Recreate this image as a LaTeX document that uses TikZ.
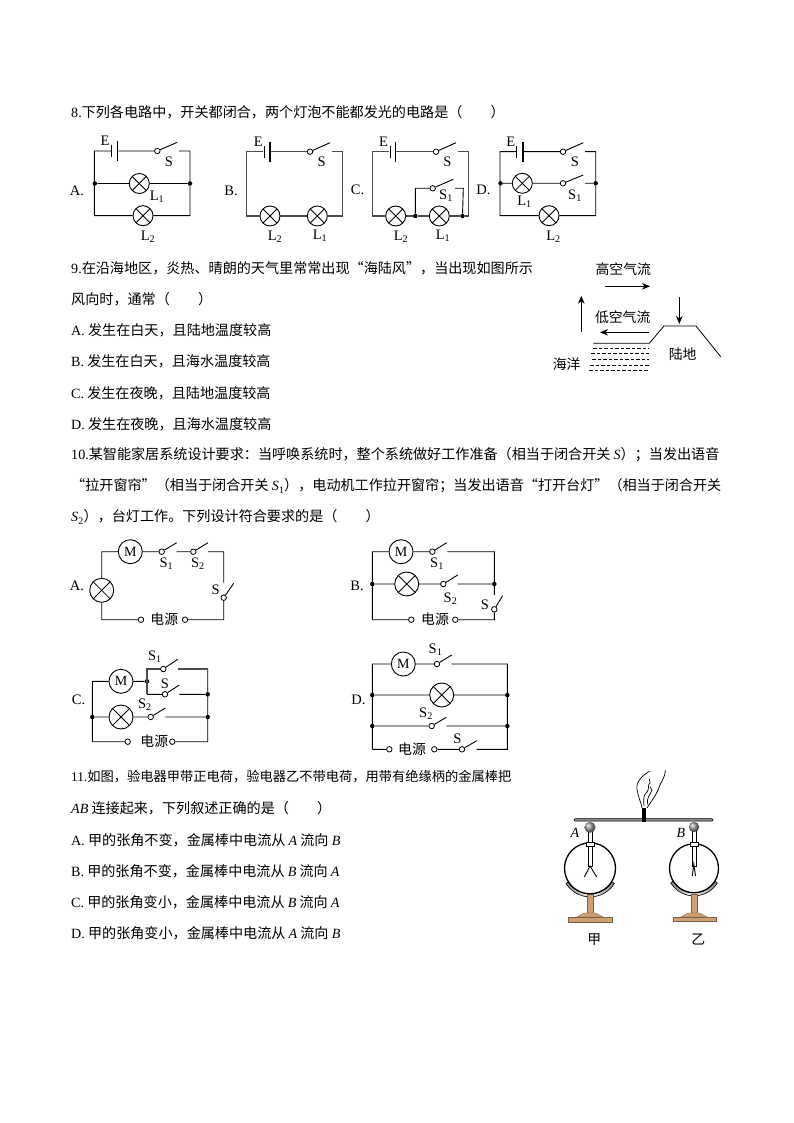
\documentclass[tikz,border=0pt]{standalone}
\usepackage{fontspec}
\setmainfont{Liberation Serif}
\newfontfamily\cjk{Noto Sans CJK SC}
\usetikzlibrary{positioning,arrows.meta}
\definecolor{standtan}{RGB}{205,160,115}
\newcommand\zc{^^^^ff0c}
\newcommand\zl{^^^^ff08}
\newcommand\zr{^^^^ff09}
\newcommand\zk{^^^^ff1a}
\newcommand\zs{^^^^ff1b}

\begin{document}
\begin{tikzpicture}[%
    x=1pt,
    y=-1pt,
    >={Stealth[length=8pt,width=6.5pt]},
    every node/.style={inner sep=0pt},
    line/.style={anchor=west,font=\fontsize{14.1}{16}\selectfont\cjk},
    tag/.style={font=\fontsize{14.5}{16}\selectfont},
    zh/.style={font=\fontsize{13.85}{16}\selectfont\cjk},
    wire/.style={line width=0.9pt},
    fat/.style={line width=1.3pt,black!70},
    lamp/.style={circle,draw,fill=white,line width=0.9pt,minimum size=20pt,
        path picture={\draw[line width=0.8pt] (path picture bounding box.north west) -- (path picture bounding box.south east)
            (path picture bounding box.north east) -- (path picture bounding box.south west);}},
    biglamp/.style={lamp,minimum size=24pt},
    motor/.style={circle,draw,fill=white,line width=0.9pt,minimum size=24pt,font=\fontsize{14}{14}\selectfont},
    term/.style={circle,draw,fill=white,line width=0.8pt,minimum size=5.5pt},
    dot/.style={circle,fill=black,minimum size=4.5pt},
    short/.style={fill=black,minimum width=1pt,minimum height=12pt},
    long/.style={fill=black,minimum width=1.6pt,minimum height=20pt}]

    \useasboundingbox[fill=white] (0,0) rectangle (794,1123);

    % question text
    \node[line] (q8) at (71,112) {{\rmfamily 8.}下列各电路中\zc{}开关都闭合\zc{}两个灯泡不能都发光的电路是\zl{}\hspace{2em}\zr{}};
    \node[line] (q9a) at (71,268) {{\rmfamily 9.}在沿海地区\zc{}炎热、晴朗的天气里常常出现“海陆风”\zc{}当出现如图所示};
    \node[line] (q9b) at (71,299) {风向时\zc{}通常\zl{}\hspace{2em}\zr{}};
    \node[line] (q9A) at (71,330) {{\rmfamily A.} 发生在白天\zc{}且陆地温度较高};
    \node[line] (q9B) at (71,361) {{\rmfamily B.} 发生在白天\zc{}且海水温度较高};
    \node[line] (q9C) at (71,393) {{\rmfamily C.} 发生在夜晚\zc{}且陆地温度较高};
    \node[line] (q9D) at (71,424) {{\rmfamily D.} 发生在夜晚\zc{}且海水温度较高};
    \node[line] (q10a) at (71,455) {{\rmfamily 10.}某智能家居系统设计要求\zk{}当呼唤系统时\zc{}整个系统做好工作准备\zl{}相当于闭合开关 {\rmfamily\itshape S}\zr{}\zs{}当发出语音};
    \node[line] (q10b) at (71,486) {“拉开窗帘”\zl{}相当于闭合开关 {\rmfamily\itshape S}{\rmfamily\textsubscript{1}}\zr{}\zc{}电动机工作拉开窗帘\zs{}当发出语音“打开台灯”\zl{}相当于闭合开关};
    \node[line] (q10c) at (71,517) {{\rmfamily\itshape S}{\rmfamily\textsubscript{2}}\zr{}\zc{}台灯工作。下列设计符合要求的是\zl{}\hspace{2em}\zr{}};
    \node[line,font=\fontsize{13.25}{16}\selectfont\cjk] (q11a) at (71,777) {{\rmfamily 11.}如图\zc{}验电器甲带正电荷\zc{}验电器乙不带电荷\zc{}用带有绝缘柄的金属棒把};
    \node[line] (q11b) at (71,808) {{\rmfamily\itshape AB} 连接起来\zc{}下列叙述正确的是\zl{}\hspace{2em}\zr{}};
    \node[line] (q11A) at (71,840) {{\rmfamily A.} 甲的张角不变\zc{}金属棒中电流从 {\rmfamily\itshape A} 流向 {\rmfamily\itshape B}};
    \node[line] (q11B) at (71,871) {{\rmfamily B.} 甲的张角不变\zc{}金属棒中电流从 {\rmfamily\itshape B} 流向 {\rmfamily\itshape A}};
    \node[line] (q11C) at (71,902) {{\rmfamily C.} 甲的张角变小\zc{}金属棒中电流从 {\rmfamily\itshape B} 流向 {\rmfamily\itshape A}};
    \node[line] (q11D) at (71,933) {{\rmfamily D.} 甲的张角变小\zc{}金属棒中电流从 {\rmfamily\itshape A} 流向 {\rmfamily\itshape B}};

    % 8 A
    \coordinate (tl_8a) at (94.3,151);
    \coordinate (tr_8a) at (190,151);
    \coordinate (bl_8a) at (94.3,215.7);
    \coordinate (br_8a) at (190,215.7);
    \coordinate (S_end_8a) at (177.3,142.3);
    \coordinate (S_back_8a) at (179,151);
    \node[short] (e1_8a) at (111.7,151) {};
    \node[long] (e2_8a) at (117.3,151) {};
    \node[term] (S_8a) at (157.3,151) {};
    \node[dot] (jl_8a) at (94.8,183.5) {};
    \node[dot] (jr_8a) at (190,183.5) {};
    \node[lamp] (L1_8a) at (139.3,183.5) {};
    \node[lamp] (L2_8a) at (143,215.7) {};
    \node[tag] (A_8a) at (77,191) {A.};
    \node[tag] (E_8a) at (105,140.5) {E};
    \node[tag] (Sl_8a) at (169,162) {S};
    \node[tag] (L1l_8a) at (157,197) {L\textsubscript{1}};
    \node[tag] (L2l_8a) at (148,237) {L\textsubscript{2}};
    \draw[wire] (e1_8a) -- (tl_8a) -- (bl_8a) -- (L2_8a) -- (br_8a) -- (tr_8a) -- (S_back_8a)
        (e2_8a) -- (S_8a) -- (S_end_8a)
        (jl_8a) -- (L1_8a) -- (jr_8a);

    % 8 B
    \coordinate (tl_8b) at (246.7,151.7);
    \coordinate (tr_8b) at (342.7,151.7);
    \coordinate (bl_8b) at (246.7,216);
    \coordinate (br_8b) at (342.7,216);
    \coordinate (S_end_8b) at (330,142.7);
    \coordinate (S_back_8b) at (331.7,151.7);
    \node[short] (e1_8b) at (264,151.7) {};
    \node[long] (e2_8b) at (269.7,151.7) {};
    \node[term] (S_8b) at (310,151.7) {};
    \node[lamp] (L2_8b) at (270,216) {};
    \node[lamp] (L1_8b) at (317.3,216) {};
    \node[tag] (B_8b) at (231,191) {B.};
    \node[tag] (E_8b) at (258.3,141.5) {E};
    \node[tag] (Sl_8b) at (321.7,162) {S};
    \node[tag] (L2l_8b) at (275,237) {L\textsubscript{2}};
    \node[tag] (L1l_8b) at (320,236) {L\textsubscript{1}};
    \draw[fat] (e1_8b) -- (tl_8b) -- (bl_8b) -- (L2_8b) -- (L1_8b) -- (br_8b) -- (tr_8b) -- (S_back_8b)
        (e2_8b) -- (S_8b);
    \draw[wire] (S_8b) -- (S_end_8b);

    % 8 C
    \coordinate (tl_8c) at (372.7,151.7);
    \coordinate (tr_8c) at (468.3,151.7);
    \coordinate (bl_8c) at (372.7,216);
    \coordinate (br_8c) at (468.3,216);
    \coordinate (S_end_8c) at (456,142.7);
    \coordinate (S_back_8c) at (458.3,151.7);
    \coordinate (up_8c) at (415.3,188.3);
    \coordinate (down_8c) at (463.3,188.3);
    \coordinate (S1_end_8c) at (453.3,179.3);
    \coordinate (S1_back_8c) at (455,188.3);
    \node[short] (e1_8c) at (390,151.7) {};
    \node[long] (e2_8c) at (395.3,151.7) {};
    \node[term] (S_8c) at (436,151.7) {};
    \node[term] (S1_8c) at (432.7,188.3) {};
    \node[lamp] (L2_8c) at (395.7,216) {};
    \node[lamp] (L1_8c) at (439.3,216) {};
    \node[dot] (j1_8c) at (415.3,216) {};
    \node[dot] (j2_8c) at (462.5,216) {};
    \node[tag] (C_8c) at (357.5,190) {C.};
    \node[tag] (E_8c) at (383.5,141.5) {E};
    \node[tag] (Sl_8c) at (447.3,162) {S};
    \node[tag] (S1l_8c) at (446,196) {S\textsubscript{1}};
    \node[tag] (L2l_8c) at (401,237) {L\textsubscript{2}};
    \node[tag] (L1l_8c) at (443,236) {L\textsubscript{1}};
    \draw[fat] (e1_8c) -- (tl_8c) -- (bl_8c) -- (L2_8c) -- (j1_8c) -- (L1_8c) -- (j2_8c) -- (br_8c) -- (tr_8c) -- (S_back_8c)
        (e2_8c) -- (S_8c);
    \draw[wire] (S_8c) -- (S_end_8c)
        (j1_8c) -- (up_8c) -- (S1_8c) -- (S1_end_8c)
        (S1_back_8c) -- (down_8c) -- (j2_8c);

    % 8 D
    \coordinate (tl_8d) at (500,151.7);
    \coordinate (tr_8d) at (595.7,151.7);
    \coordinate (bl_8d) at (500,215.7);
    \coordinate (br_8d) at (595.7,215.7);
    \coordinate (S_end_8d) at (583.3,142.7);
    \coordinate (S_back_8d) at (585,151.7);
    \coordinate (S1_end_8d) at (583.3,175);
    \coordinate (S1_back_8d) at (585,183.3);
    \node[short] (e1_8d) at (516.7,151.7) {};
    \node[long] (e2_8d) at (522.7,151.7) {};
    \node[term] (S_8d) at (563,151.7) {};
    \node[term] (S1_8d) at (563,183.3) {};
    \node[dot] (jl_8d) at (500.5,183.3) {};
    \node[dot] (jr_8d) at (595.7,183.3) {};
    \node[lamp] (L1_8d) at (522.3,183.3) {};
    \node[lamp] (L2_8d) at (549,215.7) {};
    \node[tag] (D_8d) at (483.5,190) {D.};
    \node[tag] (E_8d) at (510.7,141.5) {E};
    \node[tag] (Sl_8d) at (575,162) {S};
    \node[tag] (S1l_8d) at (575,196) {S\textsubscript{1}};
    \node[tag] (L1l_8d) at (524.5,202) {L\textsubscript{1}};
    \node[tag] (L2l_8d) at (553.5,237) {L\textsubscript{2}};
    \draw[wire] (e1_8d) -- (tl_8d) -- (bl_8d) -- (L2_8d) -- (br_8d) -- (tr_8d) -- (S_back_8d)
        (e2_8d) -- (S_8d) -- (S_end_8d)
        (jl_8d) -- (L1_8d) -- (S1_8d) -- (S1_end_8d)
        (S1_back_8d) -- (jr_8d);

    % 9 sea and land
    \node[zh] (high) at (623.3,269) {高空气流};
    \node[zh] (low) at (622.7,317) {低空气流};
    \node[zh] (sea) at (566.7,364.5) {海洋};
    \node[zh] (land) at (682.7,354) {陆地};
    \draw[->,line width=0.8pt] (605,286.3) -- (650,286.3);
    \draw[->,line width=0.8pt] (581.3,331.7) -- (581.3,295.7);
    \draw[->,line width=0.8pt] (679.3,297.3) -- (679.3,324);
    \draw[->,line width=0.8pt] (649,332.3) -- (600,332.3);
    \draw[line width=0.8pt] (593.3,343.3) -- (649.3,343.3) -- (664,326) -- (696,326) -- (720.7,356.7);
    \foreach \y/\x in {348.3/593,353.7/591,359/592,365/590,370/589}
        \draw[line width=0.7pt,dash pattern=on 3.5pt off 2pt] (\x,\y) -- (649.3,\y);

    % 10 A
    \coordinate (tl_10a) at (101.7,551.7);
    \coordinate (tr_10a) at (223.7,551.7);
    \coordinate (bl_10a) at (101.7,619.7);
    \coordinate (br_10a) at (223.7,619.7);
    \coordinate (S1_end_10a) at (176.7,542.7);
    \coordinate (S1_back_10a) at (176.7,551.7);
    \coordinate (S2_end_10a) at (208,542.7);
    \coordinate (S2_back_10a) at (208,551.7);
    \coordinate (S_end_10a) at (233.7,583.3);
    \coordinate (S_back_10a) at (223.7,582.7);
    \node[motor] (M_10a) at (130.3,551.7) {M};
    \node[biglamp] (L_10a) at (101.7,590.3) {};
    \node[term] (S1_10a) at (161.7,551.7) {};
    \node[term] (S2_10a) at (193.3,551.7) {};
    \node[term] (S_10a) at (223.7,597.7) {};
    \node[term] (p1_10a) at (141,619.7) {};
    \node[term] (p2_10a) at (185,619.7) {};
    \node[zh] (src_10a) at (164.3,619.7) {电源};
    \node[tag] (A_10a) at (77,586) {A.};
    \node[tag] (S1l_10a) at (166.5,563.5) {S\textsubscript{1}};
    \node[tag] (S2l_10a) at (198,563.5) {S\textsubscript{2}};
    \node[tag] (Sl_10a) at (215.7,590) {S};
    \draw[wire] (L_10a) -- (tl_10a) -- (M_10a) -- (S1_10a) -- (S1_end_10a)
        (S1_back_10a) -- (S2_10a) -- (S2_end_10a)
        (S2_back_10a) -- (tr_10a) -- (S_back_10a)
        (S_end_10a) -- (S_10a) -- (br_10a) -- (p2_10a)
        (p1_10a) -- (bl_10a) -- (L_10a);

    % 10 B
    \coordinate (tl_10b) at (372.3,551.7);
    \coordinate (tr_10b) at (494.3,551.7);
    \coordinate (bl_10b) at (372.3,619.7);
    \coordinate (br_10b) at (494.3,619.7);
    \coordinate (S1_end_10b) at (446.7,542.7);
    \coordinate (S1_back_10b) at (447.3,551.7);
    \coordinate (S2_end_10b) at (457.7,575);
    \coordinate (S2_back_10b) at (457.7,584);
    \coordinate (S_end_10b) at (502.7,595.7);
    \coordinate (S_back_10b) at (494.3,595);
    \node[motor] (M_10b) at (401,551.7) {M};
    \node[biglamp] (L_10b) at (406.7,584) {};
    \node[dot] (jl_10b) at (372.3,584) {};
    \node[dot] (jr_10b) at (494.3,584) {};
    \node[term] (S1_10b) at (432.3,551.7) {};
    \node[term] (S2_10b) at (443.3,584) {};
    \node[term] (S_10b) at (494.3,609.3) {};
    \node[term] (p1_10b) at (411.3,619.7) {};
    \node[term] (p2_10b) at (455.3,619.7) {};
    \node[zh] (src_10b) at (435,619.7) {电源};
    \node[tag] (B_10b) at (357,586) {B.};
    \node[tag] (S1l_10b) at (437,563.5) {S\textsubscript{1}};
    \node[tag] (S2l_10b) at (450.5,598.5) {S\textsubscript{2}};
    \node[tag] (Sl_10b) at (485,605) {S};
    \draw[wire] (bl_10b) -- (tl_10b) -- (M_10b) -- (S1_10b) -- (S1_end_10b)
        (S1_back_10b) -- (tr_10b) -- (S_back_10b)
        (jl_10b) -- (L_10b) -- (S2_10b) -- (S2_end_10b)
        (S2_back_10b) -- (jr_10b)
        (S_end_10b) -- (S_10b) -- (br_10b) -- (p2_10b)
        (p1_10b) -- (bl_10b);

    % 10 C
    \coordinate (tl_10c) at (92.3,681.3);
    \coordinate (bl_10c) at (92.3,741.7);
    \coordinate (br_10c) at (207.7,741.7);
    \coordinate (tr_10c) at (207.7,669);
    \coordinate (up_10c) at (147,669);
    \coordinate (down_10c) at (147,694.3);
    \coordinate (S1_end_10c) at (177.7,659.3);
    \coordinate (S1_back_10c) at (178.3,669);
    \coordinate (S_end_10c) at (179.3,685);
    \coordinate (S_back_10c) at (179.3,694.3);
    \coordinate (S2_end_10c) at (165.3,708);
    \coordinate (S2_back_10c) at (165.3,717);
    \node[motor] (M_10c) at (121,681.3) {M};
    \node[biglamp] (L_10c) at (121,717) {};
    \node[dot] (jm_10c) at (147,681.3) {};
    \node[dot] (jl_10c) at (92.3,717) {};
    \node[dot] (j1_10c) at (207.7,694.3) {};
    \node[dot] (j2_10c) at (207.7,717) {};
    \node[term] (S1_10c) at (163.3,669) {};
    \node[term] (S_10c) at (165,694.3) {};
    \node[term] (S2_10c) at (150.7,717) {};
    \node[term] (p1_10c) at (127.7,741.7) {};
    \node[term] (p2_10c) at (172.3,741.7) {};
    \node[zh] (src_10c) at (154.3,741.7) {电源};
    \node[tag] (C_10c) at (78.5,699.5) {C.};
    \node[tag] (S1l_10c) at (155,657) {S\textsubscript{1}};
    \node[tag] (Sl_10c) at (165,683.5) {S};
    \node[tag] (S2l_10c) at (145,705) {S\textsubscript{2}};
    \draw[wire] (bl_10c) -- (tl_10c) -- (M_10c) -- (jm_10c)
        (down_10c) -- (S_10c) -- (S_end_10c)
        (S_back_10c) -- (j1_10c)
        (jl_10c) -- (L_10c) -- (S2_10c) -- (S2_end_10c)
        (S2_back_10c) -- (j2_10c)
        (p1_10c) -- (bl_10c)
        (p2_10c) -- (br_10c) -- (tr_10c)
        (S1_10c) -- (S1_end_10c);
    \draw[fat] (down_10c) -- (up_10c) -- (S1_10c)
        (S1_back_10c) -- (tr_10c);

    % 10 D
    \coordinate (tl_10d) at (372.3,664);
    \coordinate (tr_10d) at (507.3,664);
    \coordinate (bl_10d) at (372.3,749.3);
    \coordinate (br_10d) at (507.3,749.3);
    \coordinate (S1_end_10d) at (451.7,655);
    \coordinate (S1_back_10d) at (451.7,664);
    \coordinate (S2_end_10d) at (446.3,717.3);
    \coordinate (S2_back_10d) at (446.3,726);
    \coordinate (S_end_10d) at (476.7,740.7);
    \coordinate (S_back_10d) at (476.7,749.3);
    \node[motor] (M_10d) at (403.3,664) {M};
    \node[biglamp] (L_10d) at (441.7,695) {};
    \node[dot] (j1l_10d) at (372.3,695) {};
    \node[dot] (j1r_10d) at (507.3,695) {};
    \node[dot] (j2l_10d) at (372.3,726) {};
    \node[dot] (j2r_10d) at (507.3,726) {};
    \node[term] (S1_10d) at (437,664) {};
    \node[term] (S2_10d) at (431.7,726) {};
    \node[term] (S_10d) at (462,749.3) {};
    \node[term] (p1_10d) at (389.3,749.3) {};
    \node[term] (p2_10d) at (434.3,749.3) {};
    \node[zh] (src_10d) at (412,749.3) {电源};
    \node[tag] (D_10d) at (358.5,699.5) {D.};
    \node[tag] (S1l_10d) at (435.5,649.5) {S\textsubscript{1}};
    \node[tag] (S2l_10d) at (426,714) {S\textsubscript{2}};
    \node[tag] (Sl_10d) at (457.3,738.5) {S};
    \draw[wire] (bl_10d) -- (tl_10d) -- (M_10d) -- (S1_10d) -- (S1_end_10d)
        (S1_back_10d) -- (tr_10d) -- (br_10d) -- (S_back_10d)
        (j1l_10d) -- (L_10d) -- (j1r_10d)
        (j2l_10d) -- (S2_10d) -- (S2_end_10d)
        (S2_back_10d) -- (j2r_10d)
        (bl_10d) -- (p1_10d)
        (p2_10d) -- (S_10d) -- (S_end_10d);

    % 11 rod and hand
    \draw[black,fill=black!35,line width=0.6pt,rounded corners=1pt] (574,818.7) rectangle (713,821);
    \fill[black] (642.3,808) rectangle (646.3,822);
    \draw[line width=0.7pt] (650,771) .. controls (641,776) and (635,783) .. (637.3,791) .. controls (638.5,798) and (641,802) .. (642,808);
    \draw[line width=0.7pt] (665.5,770.5) .. controls (665,778) and (660,783) .. (658,790) .. controls (655,797) and (650,803) .. (647,808);
    \draw[line width=0.7pt] (644,806) .. controls (643,798) and (644,794) .. (647,792) .. controls (650,788) and (647,785) .. (650,783) -- (649.5,779);
    \draw[line width=0.7pt] (648,805) .. controls (646,797) and (650,796) .. (652,790) -- (650,787);

    % 11 left electroscope
    \draw[line width=0.6pt,left color=black!50,right color=black!50,middle color=white] (566,883.5) arc[start angle=148,end angle=32,x radius=28.5,y radius=28.5] -- (612,881.8) arc[start angle=32,end angle=148,x radius=25.8,y radius=25.8] -- cycle;
    \draw[fill=standtan,draw=standtan!60!black,line width=0.3pt] (587.5,894.5) rectangle (592.7,914);
    \draw[fill=standtan,draw=standtan!60!black,line width=0.3pt] (577,917) -- (584,913) -- (596,913) -- (603,917) -- cycle;
    \draw[fill=standtan,draw=standtan!60!black,line width=0.4pt] (568.5,917.5) rectangle (612.5,922.5);
    \draw[line width=1.3pt] (590,868.3) circle[radius=25.5];
    \draw[fill=white,line width=0.5pt] (588.2,830) rectangle (591.8,866);
    \draw[fill=white,line width=0.5pt] (586,842) rectangle (594,846);
    \draw[line width=0.9pt] (584.3,877) -- (590,866) -- (596.7,877);
    \shade[ball color=black!40] (590,827.3) circle[radius=5.5];
    \node[tag,font=\fontsize{14}{16}\selectfont\itshape] (A_11) at (575,832.7) {A};
    \node[zh] (jia) at (594.3,940) {甲};

    % 11 right electroscope
    \draw[line width=0.6pt,left color=black!50,right color=black!50,middle color=white] (670.7,883) arc[start angle=148,end angle=32,x radius=27.5,y radius=27.5] -- (715,881) arc[start angle=32,end angle=148,x radius=24.8,y radius=24.8] -- cycle;
    \draw[fill=standtan,draw=standtan!60!black,line width=0.3pt] (691.5,894) rectangle (696.7,914);
    \draw[fill=standtan,draw=standtan!60!black,line width=0.3pt] (681,917) -- (688,913) -- (700,913) -- (707,917) -- cycle;
    \draw[fill=standtan,draw=standtan!60!black,line width=0.4pt] (673,917.5) rectangle (716.5,921.5);
    \draw[line width=1.3pt] (694,868.3) circle[radius=24.5];
    \draw[fill=white,line width=0.5pt] (692.2,830) rectangle (695.8,866);
    \draw[fill=white,line width=0.5pt] (690,842) rectangle (698,846);
    \draw[line width=0.9pt] (692.3,876) -- (693.8,864) -- (695.5,876);
    \shade[ball color=black!40] (694,827) circle[radius=5.2];
    \node[tag,font=\fontsize{14}{16}\selectfont\itshape] (B_11) at (681,832.7) {B};
    \node[zh] (yi) at (698.3,939.5) {乙};
\end{tikzpicture}
\end{document}
